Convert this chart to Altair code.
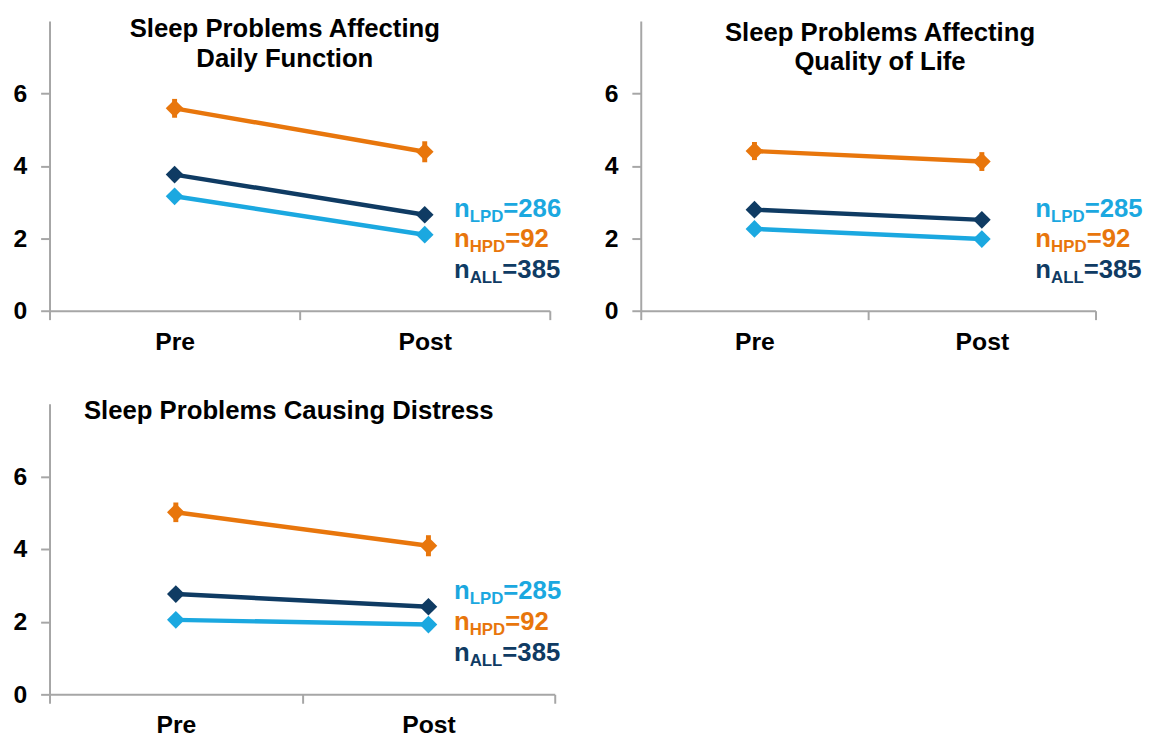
import altair as alt
import pandas as pd

# ---------------- data ----------------
times = ["Pre", "Post"]
groups = ["LPD", "HPD", "ALL"]
group_colors = ["#1BA8E0", "#E8760C", "#0F3B63"]

# means [Pre, Post]
daily_lpd = [3.16, 2.10]
daily_hpd = [5.59, 4.39]
daily_all = [3.76, 2.65]
qol_lpd = [2.26, 1.98]
qol_hpd = [4.41, 4.12]
qol_all = [2.79, 2.51]
dist_lpd = [2.05, 1.92]
dist_hpd = [5.01, 4.09]
dist_all = [2.76, 2.41]

# standard errors [Pre, Post]
daily_lpd_err = [0.09, 0.08]
daily_hpd_err = [0.26, 0.29]
daily_all_err = [0.09, 0.08]
qol_lpd_err = [0.08, 0.08]
qol_hpd_err = [0.25, 0.26]
qol_all_err = [0.08, 0.08]
dist_lpd_err = [0.09, 0.08]
dist_hpd_err = [0.27, 0.29]
dist_all_err = [0.09, 0.08]

daily_n = [286, 92, 385]
qol_n = [285, 92, 385]
dist_n = [285, 92, 385]

daily_title = ["Sleep Problems Affecting", "Daily Function"]
qol_title = ["Sleep Problems Affecting", "Quality of Life"]
dist_title = ["Sleep Problems Causing Distress"]

y_ticks = [0, 2, 4, 6]

FONT = "Liberation Sans"


def build_df(lpd, hpd, allg, lpd_e, hpd_e, all_e):
    rows = []
    for g, vals, errs in (("LPD", lpd, lpd_e), ("HPD", hpd, hpd_e), ("ALL", allg, all_e)):
        for t, v, e in zip(times, vals, errs):
            rows.append({"group": g, "time": t, "mean": v, "lo": v - e, "hi": v + e})
    return pd.DataFrame(rows)


one = alt.Data(values=[{}])


def text_mark(txt, x, y, size, color, align="left"):
    return alt.Chart(one).mark_text(
        font=FONT, fontWeight="bold", fontSize=size, color=color,
        align=align, baseline="alphabetic"
    ).encode(x=alt.value(x), y=alt.value(y), text=alt.value(txt))


def panel(df, width, height, title_lines, title_x, title_y, ns, ann_x, ann_y):
    base = alt.Chart(df)
    x = alt.X("time:N", sort=times,
              scale=alt.Scale(paddingInner=0, paddingOuter=0),
              axis=alt.Axis(title=None, tickBand="extent", labelPadding=10,
                            labelAngle=0))
    y = alt.Y("mean:Q", scale=alt.Scale(domain=[0, 8], nice=False, zero=True),
              axis=alt.Axis(title=None, values=y_ticks, grid=False, labelPadding=14))
    color = alt.Color("group:N", scale=alt.Scale(domain=groups, range=group_colors),
                      legend=None)

    lines = base.mark_line(strokeWidth=4.5).encode(x=x, y=y, color=color)
    errs = base.mark_rule(strokeWidth=5).encode(
        x=x, y=alt.Y("lo:Q"), y2="hi:Q", color=color)
    pts = base.mark_point(shape="diamond", filled=True, size=320, opacity=1).encode(
        x=x, y=y, color=color)

    layers = [lines, errs, pts]
    for i, line in enumerate(title_lines):
        layers.append(text_mark(line, title_x, title_y + 30 * i, 26, "black", align="center"))

    sub_w = {"LPD": 34, "HPD": 36, "ALL": 33}
    for i, (g, c, n) in enumerate(zip(groups, group_colors, ns)):
        by = ann_y + 31 * i
        layers.append(text_mark("n", ann_x, by, 26, c))
        layers.append(text_mark(g, ann_x + 16, by + 5, 17, c))
        layers.append(text_mark(f"={n}", ann_x + 16 + sub_w[g], by, 26, c))

    return alt.layer(*layers).properties(width=width, height=height)


p1 = panel(build_df(daily_lpd, daily_hpd, daily_all, daily_lpd_err, daily_hpd_err, daily_all_err),
           506, 293, daily_title, 238, 16, daily_n, 409, 198)
p2 = panel(build_df(qol_lpd, qol_hpd, qol_all, qol_lpd_err, qol_hpd_err, qol_all_err),
           460, 293, qol_title, 242, 20, qol_n, 399, 198)
p3 = panel(build_df(dist_lpd, dist_hpd, dist_all, dist_lpd_err, dist_hpd_err, dist_all_err),
           511, 294, dist_title, 242, 16, dist_n, 409, 198)

chart = alt.concat(p1, p2, p3, columns=2, spacing={"row": 94, "column": 87},
                   bounds="flush").properties(
    padding={"left": 5, "top": 4, "right": 0, "bottom": 0}
).configure_view(stroke=None).configure_axis(
    domainColor="#a6a6a6", domainWidth=2, tickColor="#a6a6a6", tickWidth=2,
    tickSize=9, labelFont=FONT, labelFontWeight="bold", labelFontSize=25,
    labelColor="black"
)

chart.save("out.html", embed_options={"renderer": "svg", "actions": False})
